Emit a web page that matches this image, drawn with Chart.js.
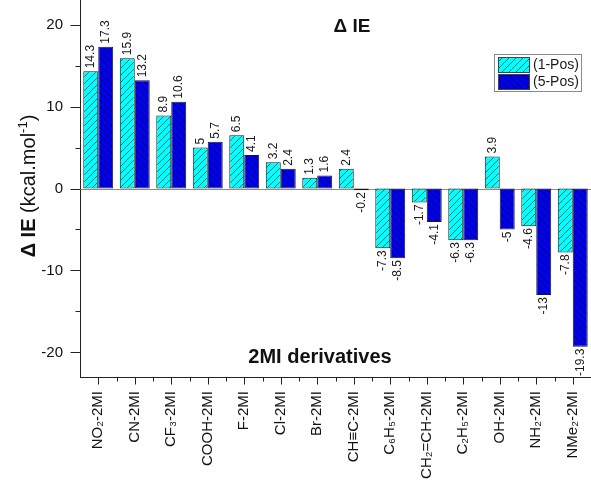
<!DOCTYPE html>
<html>
<head>
<meta charset="utf-8">
<script src="https://cdn.jsdelivr.net/npm/chart.js@4/dist/chart.umd.min.js"></script>
<style>
  html, body { margin: 0; padding: 0; background: #fff; }
  #wrap { width: 591px; height: 480px; }
</style>
</head>
<body>
<div id="wrap"><canvas id="c" width="591" height="480"></canvas></div>
<script>
// Substituent categories on the 2MI scaffold
const categories = ['NO₂-2MI', 'CN-2MI', 'CF₃-2MI', 'COOH-2MI', 'F-2MI', 'Cl-2MI', 'Br-2MI',
  'CH≡C-2MI', 'C₆H₅-2MI', 'CH₂=CH-2MI', 'C₂H₅-2MI', 'OH-2MI', 'NH₂-2MI', 'NMe₂-2MI'];
// ΔIE (kcal/mol) for substitution at position 1 and position 5
const pos1Values = [14.3, 15.9, 8.9, 5, 6.5, 3.2, 1.3, 2.4, -7.3, -1.7, -6.3, 3.9, -4.6, -7.8];
const pos5Values = [17.3, 13.2, 10.6, 5.7, 4.1, 2.4, 1.6, -0.2, -8.5, -4.1, -6.3, -5, -13, -19.3];
const seriesNames = ['(1-Pos)', '(5-Pos)'];
const yTickValues = [-20, -10, 0, 10, 20];
const yMinorValues = [-15, -5, 5, 15];

const FONT = '"Liberation Sans", Arial, Helvetica, sans-serif';
const canvas = document.getElementById('c');
const mainCtx = canvas.getContext('2d');

// Diagonal hatch fill: dir > 0 draws "/" strokes, dir < 0 draws "\" strokes
function hatch(fill, line, dir) {
  const s = 7;
  const c = document.createElement('canvas');
  c.width = s; c.height = s;
  const g = c.getContext('2d');
  g.fillStyle = fill;
  g.fillRect(0, 0, s, s);
  g.strokeStyle = line;
  g.lineWidth = 0.9;
  g.beginPath();
  for (let k = -1; k <= 1; k++) {
    if (dir > 0) { g.moveTo(k * s, s); g.lineTo(k * s + s, 0); }
    else { g.moveTo(k * s, 0); g.lineTo(k * s + s, s); }
  }
  g.stroke();
  return mainCtx.createPattern(c, 'repeat');
}

const cyanHatch = hatch('#00ffff', 'rgba(20,70,70,0.85)', 1);
const blueHatch = hatch('#0000f0', 'rgba(0,0,40,0.95)', -1);

const decor = {
  id: 'decor',
  beforeDatasetsDraw(chart) {
    const { ctx, chartArea, scales } = chart;
    const y0 = Math.round(scales.y.getPixelForValue(0)) + 0.5;
    ctx.save();
    ctx.strokeStyle = '#8c8c8c';
    ctx.lineWidth = 1;
    ctx.beginPath();
    ctx.moveTo(chartArea.left, y0);
    ctx.lineTo(chartArea.right, y0);
    ctx.stroke();
    ctx.restore();
  },
  afterDatasetsDraw(chart) {
    // value labels, rotated, above positive bars and below negative bars
    const { ctx } = chart;
    ctx.save();
    ctx.font = '12px ' + FONT;
    ctx.fillStyle = '#1a1a1a';
    ctx.textBaseline = 'middle';
    chart.data.datasets.forEach((ds, i) => {
      const meta = chart.getDatasetMeta(i);
      meta.data.forEach((el, j) => {
        const v = ds.data[j];
        ctx.save();
        ctx.translate(el.x, v >= 0 ? el.y - 3 : el.y + 2);
        ctx.rotate(-Math.PI / 2);
        ctx.textAlign = v >= 0 ? 'left' : 'right';
        ctx.fillText(String(v), 0, 0);
        ctx.restore();
      });
    });
    ctx.restore();
  },
  afterDraw(chart) {
    const { ctx, chartArea, scales } = chart;
    const x = scales.x, y = scales.y;
    ctx.save();
    ctx.strokeStyle = '#222';
    ctx.lineWidth = 1;
    ctx.beginPath();
    // y-axis ticks
    const ax = chartArea.left + 0.5;
    yTickValues.forEach(v => {
      const p = Math.round(y.getPixelForValue(v)) + 0.5;
      ctx.moveTo(ax - 10, p); ctx.lineTo(ax, p);
    });
    yMinorValues.forEach(v => {
      const p = Math.round(y.getPixelForValue(v)) + 0.5;
      ctx.moveTo(ax - 5, p); ctx.lineTo(ax, p);
    });
    // x-axis ticks: major at categories, minor between them
    const by = chartArea.bottom + 0.5;
    categories.forEach((c, i) => {
      const p = Math.round(x.getPixelForValue(i)) + 0.5;
      ctx.moveTo(p, by); ctx.lineTo(p, by + 7);
      if (i > 0) {
        const q = Math.round((x.getPixelForValue(i - 1) + x.getPixelForValue(i)) / 2) + 0.5;
        ctx.moveTo(q, by); ctx.lineTo(q, by + 4);
      }
    });
    ctx.stroke();

    // headings inside the plot
    ctx.fillStyle = '#111';
    ctx.textAlign = 'center';
    ctx.textBaseline = 'middle';
    ctx.font = 'bold 19px ' + FONT;
    ctx.fillText('Δ IE', 352, 27);
    ctx.font = 'bold 20px ' + FONT;
    ctx.fillText('2MI derivatives', 320, 357);

    // y-axis title with mixed weight and superscript
    const parts = [
      { t: 'Δ IE ', f: 'bold 20px ' + FONT, dy: 0 },
      { t: '(kcal.mol', f: '20px ' + FONT, dy: 0 },
      { t: '-1', f: '13px ' + FONT, dy: -8 },
      { t: ')', f: '20px ' + FONT, dy: 0 }
    ];
    let total = 0;
    parts.forEach(p => { ctx.font = p.f; p.w = ctx.measureText(p.t).width; total += p.w; });
    ctx.save();
    ctx.translate(28, 186);
    ctx.rotate(-Math.PI / 2);
    ctx.textAlign = 'left';
    ctx.textBaseline = 'alphabetic';
    let cx = -total / 2;
    parts.forEach(p => {
      ctx.font = p.f;
      ctx.fillText(p.t, cx, 7 + p.dy);
      cx += p.w;
    });
    ctx.restore();

    // legend box
    const lx = 494.5, ly = 54.5, lw = 87, lh = 37;
    ctx.fillStyle = '#fff';
    ctx.fillRect(lx, ly, lw, lh);
    ctx.strokeStyle = '#8a8a8a';
    ctx.strokeRect(lx, ly, lw, lh);
    chart.data.datasets.forEach((ds, i) => {
      const sy = 57 + i * 17;
      ctx.fillStyle = ds.backgroundColor;
      ctx.fillRect(498, sy, 31, 15);
      ctx.strokeStyle = '#444';
      ctx.strokeRect(498.5, sy + 0.5, 31, 15);
      ctx.fillStyle = '#1a1a1a';
      ctx.font = '14px ' + FONT;
      ctx.textAlign = 'left';
      ctx.textBaseline = 'middle';
      ctx.fillText(ds.label, 533, sy + 8.5);
    });
    ctx.restore();
  }
};

new Chart(mainCtx, {
  type: 'bar',
  data: {
    labels: categories,
    datasets: [
      { label: seriesNames[0], data: pos1Values, backgroundColor: cyanHatch, borderColor: '#1a1a1a',
        borderWidth: 1, borderSkipped: false, categoryPercentage: 0.82, barPercentage: 1.0 },
      { label: seriesNames[1], data: pos5Values, backgroundColor: blueHatch, borderColor: '#1a1a1a',
        borderWidth: 1, borderSkipped: false, categoryPercentage: 0.82, barPercentage: 1.0 }
    ]
  },
  options: {
    responsive: false,
    animation: false,
    devicePixelRatio: 1,
    layout: { padding: 0 },
    plugins: { legend: { display: false }, tooltip: { enabled: false }, title: { display: false } },
    scales: {
      x: {
        grid: { display: false, drawTicks: false },
        border: { display: true, color: '#222', width: 1 },
        ticks: { autoSkip: false, maxRotation: 90, minRotation: 90, padding: 14, color: '#111',
          font: { family: FONT, size: 15 } },
        afterFit: s => { s.height = 103; s.paddingLeft = 0; s.paddingRight = 0; }
      },
      y: {
        min: -23, max: 23,
        grid: { display: false, drawTicks: false },
        border: { display: true, color: '#222', width: 1 },
        afterBuildTicks: s => { s.ticks = yTickValues.map(v => ({ value: v })); },
        ticks: { padding: 17, color: '#111', font: { family: FONT, size: 15 } },
        afterFit: s => { s.width = 80; s.paddingTop = 0; s.paddingBottom = 0; }
      }
    }
  },
  plugins: [decor]
});
</script>
</body>
</html>
